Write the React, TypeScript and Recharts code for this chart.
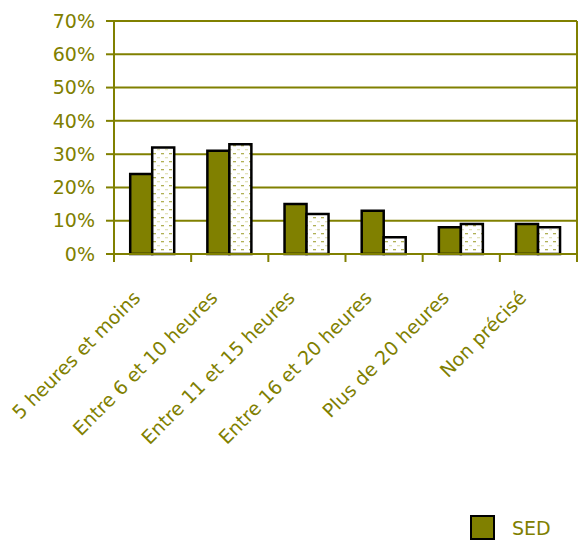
import React from 'react';
import { BarChart, Bar, XAxis, YAxis, CartesianGrid, Legend } from 'recharts';

const categories = [
  '5 heures et moins',
  'Entre 6 et 10 heures',
  'Entre 11 et 15 heures',
  'Entre 16 et 20 heures',
  'Plus de 20 heures',
  'Non précisé',
];
const sedValues = [24, 31, 15, 13, 8, 9];
const otherValues = [32, 33, 12, 5, 9, 8];
const yTicks = [0, 10, 20, 30, 40, 50, 60, 70];

const data = categories.map((name, i) => ({ name, sed: sedValues[i], other: otherValues[i] }));

const OLIVE = '#808000';
const FONT = '"DejaVu Sans", sans-serif';

const XTick = (props: any) => {
  const { x, y, payload, index, visibleTicksCount } = props;
  const half = payload.offset || 0;
  const ax = x - 11;
  const ay = y + 45;
  return (
    <g>
      <line x1={x - half} x2={x - half} y1={y} y2={y + 8} stroke={OLIVE} strokeWidth={2} />
      {index === visibleTicksCount - 1 && (
        <line x1={x + half} x2={x + half} y1={y} y2={y + 8} stroke={OLIVE} strokeWidth={2} />
      )}
      <text
        x={ax}
        y={ay}
        textAnchor="end"
        transform={`rotate(-45, ${ax}, ${ay})`}
        fill={OLIVE}
        fontSize={19}
        fontFamily={FONT}
      >
        {payload.value}
      </text>
    </g>
  );
};

const LegendContent = () => (
  <div style={{ display: 'flex', alignItems: 'center', fontFamily: FONT }}>
    <div style={{ width: 21, height: 21, background: OLIVE, border: '2px solid #000' }} />
    <span style={{ color: OLIVE, fontSize: 19, marginLeft: 17 }}>SED</span>
  </div>
);

export default function App() {
  return (
    <div style={{ position: 'absolute', left: 0, top: 0 }}>
      <BarChart
        width={578}
        height={543}
        data={data}
        margin={{ top: 21, right: 1, left: 0, bottom: 0 }}
        barCategoryGap="21%"
        barGap={0}
      >
        <defs>
          <pattern id="dots" width="8" height="8" patternUnits="userSpaceOnUse">
            <rect width="8" height="8" fill="#fff" />
            <rect x="1" y="1" width="3" height="1.3" fill="#b0b055" />
            <rect x="5" y="5" width="3" height="1.3" fill="#e2e2b8" />
          </pattern>
        </defs>
        <CartesianGrid
          stroke={OLIVE}
          strokeWidth={2}
          vertical={true}
          verticalCoordinatesGenerator={({ offset }: any) => [offset.left + offset.width]}
        />
        <XAxis
          dataKey="name"
          interval={0}
          height={289}
          axisLine={{ stroke: OLIVE, strokeWidth: 2 }}
          tickLine={false}
          tickSize={0}
          tickMargin={0}
          tick={<XTick />}
        />
        <YAxis
          width={114}
          domain={[0, 70]}
          ticks={yTicks}
          interval={0}
          tickFormatter={(v: number) => `${v}%`}
          axisLine={{ stroke: OLIVE, strokeWidth: 2 }}
          tickLine={{ stroke: OLIVE, strokeWidth: 2 }}
          tickSize={8}
          tickMargin={11}
          tick={{ fill: OLIVE, fontSize: 19, fontFamily: FONT }}
        />
        <Legend
          layout="vertical"
          align="center"
          verticalAlign="middle"
          content={<LegendContent />}
          wrapperStyle={{ left: 470, top: 515, width: 100 }}
        />
        <Bar dataKey="sed" name="SED" fill={OLIVE} stroke="#000" strokeWidth={2.5} isAnimationActive={false} />
        <Bar dataKey="other" name="Ensemble" fill="url(#dots)" stroke="#000" strokeWidth={2.5} legendType="none" isAnimationActive={false} />
      </BarChart>
    </div>
  );
}
